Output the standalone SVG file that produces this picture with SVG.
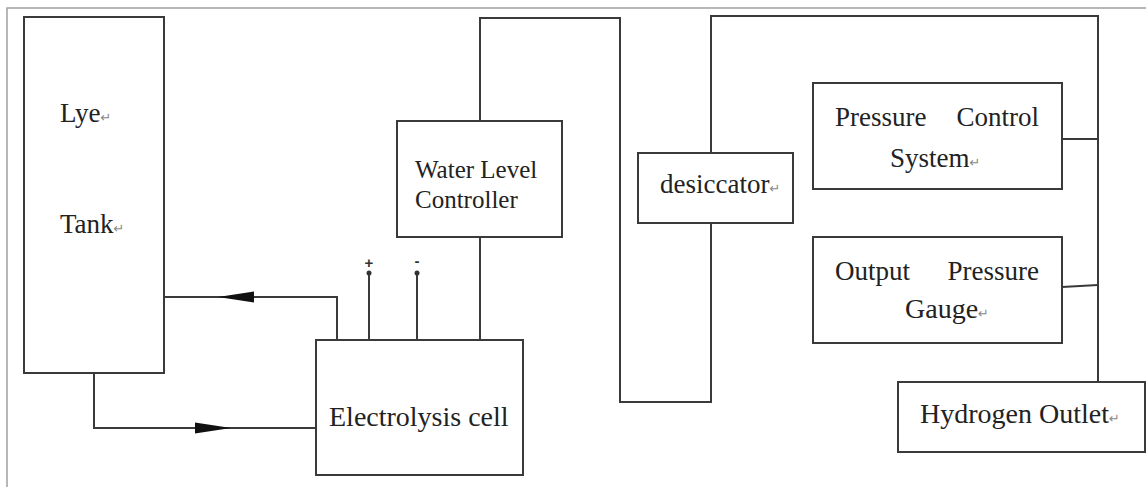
<svg xmlns="http://www.w3.org/2000/svg" xmlns:xlink="http://www.w3.org/1999/xlink" width="1146" height="487" viewBox="0 0 1146 487">
<style>
.box{fill:#fff;stroke:#3a3a3a;stroke-width:2}
.ln{fill:none;stroke:#3a3a3a;stroke-width:2}
.t{font-size:27px;fill:#222}
.rt{font-size:13px;fill:#888}
.sm{font-size:15px;font-weight:bold;fill:#333;text-anchor:middle}
</style>
<defs>
<path id="arrowR" d="M0,0 L-36,-5.5 L-36,5.5 Z" fill="#111"/>
</defs>
<rect width="1146" height="487" fill="#fff"/>
<rect x="7" y="8" width="1160" height="500" fill="none" stroke="#a0a0a0" stroke-width="1.5"/>

<g id="connectors">
<path class="ln" d="M337,340 V297 H164"/>
<use xlink:href="#arrowR" transform="translate(218,297) rotate(180)"/>
<path class="ln" d="M94,373 V428 H316"/>
<use xlink:href="#arrowR" transform="translate(231,428)"/>
<path class="ln" d="M480,340 V237"/>
<path class="ln" d="M480,121 V18 H620 V402 H711 V223"/>
<path class="ln" d="M711,153 V16 H1098 V382"/>
<path class="ln" d="M1062,139 H1098"/>
<path class="ln" d="M1062,287 L1098,285"/>
<path class="ln" d="M369,340 V273"/>
<circle cx="369" cy="273" r="2.5" fill="#333"/>
<path class="ln" d="M417,340 V273"/>
<circle cx="417" cy="273" r="2.5" fill="#333"/>
<text class="sm" x="369" y="268" font-family="Liberation Sans, Arial, sans-serif">+</text>
<text class="sm" x="417" y="266" font-family="Liberation Sans, Arial, sans-serif">-</text>
</g>

<g id="lye-tank" font-family="Liberation Serif, Times New Roman, serif">
<rect class="box" x="24" y="17" width="140" height="356"/>
<text class="t" x="60" y="122" font-size="26">Lye<tspan class="rt" font-family="DejaVu Sans, sans-serif">↵</tspan></text>
<text class="t" x="60" y="233" font-size="26">Tank<tspan class="rt" font-family="DejaVu Sans, sans-serif">↵</tspan></text>
</g>

<g id="water-level-controller" font-family="Liberation Serif, Times New Roman, serif">
<rect class="box" x="397" y="121" width="165" height="116"/>
<text x="415" y="178" font-size="25" fill="#222">Water Level</text>
<text x="415" y="208" font-size="25" fill="#222">Controller</text>
</g>

<g id="electrolysis-cell" font-family="Liberation Serif, Times New Roman, serif">
<rect class="box" x="316" y="340" width="207" height="135"/>
<text x="329" y="426" font-size="28" fill="#222">Electrolysis cell</text>
</g>

<g id="desiccator" font-family="Liberation Serif, Times New Roman, serif">
<rect class="box" x="638" y="153" width="155" height="70"/>
<text class="t" x="660" y="193">desiccator<tspan class="rt" font-family="DejaVu Sans, sans-serif">↵</tspan></text>
</g>

<g id="pressure-control-system" font-family="Liberation Serif, Times New Roman, serif">
<rect class="box" x="813" y="83" width="249" height="106"/>
<text class="t" y="126"><tspan x="835">Pressure</tspan><tspan x="1039" text-anchor="end">Control</tspan></text>
<text class="t" x="890" y="167">System<tspan class="rt" font-family="DejaVu Sans, sans-serif">↵</tspan></text>
</g>

<g id="output-pressure-gauge" font-family="Liberation Serif, Times New Roman, serif">
<rect class="box" x="813" y="237" width="249" height="106"/>
<text class="t" y="280"><tspan x="835">Output</tspan><tspan x="1039" text-anchor="end">Pressure</tspan></text>
<text x="905" y="318" font-size="28" fill="#222">Gauge<tspan class="rt" font-family="DejaVu Sans, sans-serif">↵</tspan></text>
</g>

<g id="hydrogen-outlet" font-family="Liberation Serif, Times New Roman, serif">
<rect class="box" x="898" y="382" width="247" height="70"/>
<text x="920" y="423" font-size="28" fill="#222">Hydrogen Outlet<tspan class="rt" font-family="DejaVu Sans, sans-serif">↵</tspan></text>
</g>
</svg>
